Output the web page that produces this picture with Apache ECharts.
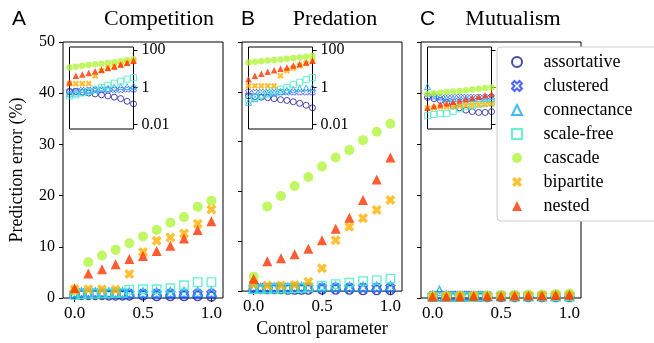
<!DOCTYPE html>
<html>
<head>
<meta charset="utf-8">
<script src="https://cdn.jsdelivr.net/npm/echarts@6/dist/echarts.min.js"></script>
<style>
  html, body { margin: 0; padding: 0; background: #fff; }
  #chart { width: 654px; height: 343px; }
</style>
</head>
<body>
<div id="chart"></div>
<script>
const seriesNames = ["assortative", "clustered", "connectance", "scale-free", "cascade", "bipartite", "nested"];
const panelTitles = ["Competition", "Predation", "Mutualism"];
const panelLetters = ["A", "B", "C"];
const xTicks = [0, 0.5, 1];
const insetTicks = [0.01, 1, 100];

// x positions: the four structural models are sampled more densely at low x
const xLow = [0, 0.05, 0.1, 0.15, 0.2, 0.25, 0.3, 0.35, 0.4, 0.5, 0.6, 0.7, 0.8, 0.9, 1.0];
const xHigh = [0, 0.1, 0.2, 0.3, 0.4, 0.5, 0.6, 0.7, 0.8, 0.9, 1.0];
const xInset = [0, 0.1, 0.2, 0.3, 0.4, 0.5, 0.6, 0.7, 0.8, 0.9, 1.0];

// A - competition
const assortativeA = [0.7, 0.6, 0.6, 0.6, 0.6, 0.5, 0.5, 0.5, 0.5, 0.5, 0.4, 0.4, 0.4, 0.4, 0.3];
const clusteredA = [0.8, 0.9, 0.9, 0.9, 0.9, 0.8, 0.8, 0.8, 0.8, 0.8, 0.8, 0.8, 0.8, 0.8, 0.8];
const connectanceA = [1.0, 1.1, 1.1, 1.1, 1.1, 1.1, 1.1, 1.1, 1.1, 1.1, 1.1, 1.2, 1.2, 1.2, 1.2];
const scaleFreeA = [0.6, 0.7, 0.8, 0.8, 0.9, 0.9, 1.0, 1.0, 1.6, 1.7, 1.7, 1.9, 2.5, 3.1, 3.1];
const cascadeA = [1.4, 7.0, 8.3, 9.4, 10.7, 12.0, 13.3, 14.7, 15.8, 17.8, 19.0];
const bipartiteA = [1.7, 1.7, 1.7, 1.6, 4.7, 9.0, 11.2, 11.8, 12.6, 14.5, 17.3];
const nestedA = [1.9, 4.8, 5.6, 6.6, 7.6, 8.2, 9.2, 10.2, 11.6, 13.3, 15.0];

// B - predation
const assortativeB = [0.4, 0.4, 0.4, 0.4, 0.4, 0.3, 0.3, 0.3, 0.3, 0.3, 0.3, 0.3, 0.2, 0.2, 0.2];
const clusteredB = [0.6, 0.6, 0.6, 0.6, 0.6, 0.6, 0.6, 0.6, 0.6, 0.6, 0.6, 0.6, 0.6, 0.6, 0.6];
const connectanceB = [0.5, 0.6, 0.6, 0.7, 0.7, 0.7, 0.7, 0.8, 0.8, 0.8, 0.9, 0.9, 0.9, 0.9, 1.0];
const scaleFreeB = [0.4, 0.4, 0.5, 0.5, 0.5, 0.5, 0.6, 0.6, 0.8, 1.1, 1.4, 1.7, 2.0, 2.2, 2.5];
const cascadeB = [2.9, 17.0, 19.1, 21.1, 22.9, 25.0, 26.8, 28.3, 30.3, 32.0, 33.6];
const bipartiteB = [1.4, 1.1, 1.1, 1.2, 1.9, 4.6, 10.2, 12.9, 14.6, 16.3, 18.3];
const nestedB = [2.5, 6.0, 6.6, 7.4, 8.5, 10.2, 12.5, 14.7, 18.3, 22.4, 26.8];

// C - mutualism
const assortativeC = [0.3, 0.3, 0.3, 0.3, 0.3, 0.3, 0.3, 0.3, 0.2, 0.2, 0.2, 0.2, 0.2, 0.2, 0.2];
const clusteredC = [0.4, 0.5, 0.4, 0.4, 0.4, 0.4, 0.4, 0.4, 0.4, 0.4, 0.4, 0.4, 0.4, 0.4, 0.4];
const connectanceC = [0.5, 1.4, 0.5, 0.4, 0.4, 0.4, 0.4, 0.4, 0.4, 0.4, 0.4, 0.4, 0.4, 0.4, 0.4];
const scaleFreeC = [0.2, 0.2, 0.2, 0.2, 0.2, 0.2, 0.2, 0.3, 0.3, 0.3, 0.3, 0.3, 0.3, 0.3, 0.3];
const cascadeC = [0.4, 0.4, 0.5, 0.5, 0.5, 0.6, 0.6, 0.7, 0.7, 0.8, 0.9];
const bipartiteC = [0.3, 0.3, 0.3, 0.3, 0.3, 0.3, 0.3, 0.4, 0.4, 0.4, 0.4];
const nestedC = [0.3, 0.3, 0.3, 0.4, 0.4, 0.4, 0.5, 0.5, 0.5, 0.6, 0.7];

// insets (log scale)
const insetA = [
  [0.6, 0.6, 0.55, 0.5, 0.45, 0.4, 0.35, 0.3, 0.25, 0.18, 0.13],
  [0.6, 0.65, 0.7, 0.7, 0.7, 0.7, 0.75, 0.75, 0.75, 0.8, 0.8],
  [0.45, 0.5, 0.6, 0.7, 0.8, 0.9, 0.9, 1.0, 1.1, 1.1, 1.2],
  [0.35, 0.4, 0.5, 0.6, 0.8, 1.0, 1.3, 1.7, 2.2, 2.8, 3.4],
  [12, 13, 14.5, 16, 17.5, 19, 21, 23, 26, 29, 33],
  [1.6, 1.6, 1.6, 1.6, 4.2, 8, 11, 13, 16, 20, 26],
  [1.9, 4.2, 5, 6, 7.5, 9, 11, 13.5, 17, 21, 27],
];
const insetB = [
  [0.35, 0.32, 0.3, 0.28, 0.25, 0.22, 0.2, 0.17, 0.14, 0.11, 0.08],
  [0.55, 0.55, 0.55, 0.55, 0.55, 0.55, 0.55, 0.55, 0.55, 0.55, 0.55],
  [0.16, 0.25, 0.35, 0.45, 0.5, 0.6, 0.7, 0.8, 0.9, 0.95, 1.0],
  [0.23, 0.3, 0.4, 0.5, 0.65, 0.8, 1.0, 1.4, 1.9, 2.6, 3.4],
  [22, 24, 26, 28, 30, 32, 35, 38, 41, 45, 50],
  [1.2, 1.2, 1.2, 1.2, 1.2, 4.2, 8, 11, 15, 20, 26],
  [2.8, 4.2, 5.5, 7, 8.5, 10, 12, 15, 18, 22, 27],
];
const insetC = [
  [0.29, 0.25, 0.2, 0.15, 0.1, 0.08, 0.06, 0.05, 0.045, 0.045, 0.05],
  [0.35, 0.33, 0.3, 0.3, 0.3, 0.3, 0.3, 0.3, 0.3, 0.3, 0.3],
  [1.1, 0.44, 0.3, 0.25, 0.25, 0.25, 0.25, 0.25, 0.25, 0.25, 0.25],
  [0.03, 0.035, 0.04, 0.04, 0.05, 0.07, 0.09, 0.1, 0.12, 0.14, 0.16],
  [0.44, 0.48, 0.52, 0.56, 0.6, 0.65, 0.7, 0.77, 0.85, 0.92, 1.0],
  [0.08, 0.08, 0.09, 0.09, 0.1, 0.1, 0.11, 0.11, 0.12, 0.12, 0.13],
  [0.08, 0.1, 0.12, 0.14, 0.17, 0.2, 0.23, 0.27, 0.32, 0.38, 0.44],
];

const mainData = [
  [assortativeA, clusteredA, connectanceA, scaleFreeA, cascadeA, bipartiteA, nestedA],
  [assortativeB, clusteredB, connectanceB, scaleFreeB, cascadeB, bipartiteB, nestedB],
  [assortativeC, clusteredC, connectanceC, scaleFreeC, cascadeC, bipartiteC, nestedC],
];
const insetData = [insetA, insetB, insetC];

// marker styles (path symbols so the legend keeps their aspect ratio)
const colors = ["#1c1c9c", "#2244ff", "#16a8ff", "#44efc4", "#b2f53c", "#ffb000", "#ff3300"];
const X_PATH = "path://M2.5,0L5,2.5L7.5,0L10,2.5L7.5,5L10,7.5L7.5,10L5,7.5L2.5,10L0,7.5L2.5,5L0,2.5Z";
const TRI_PATH = "path://M5,0L10,10L0,10Z";
const SQ_PATH = "path://M0,0L10,0L10,10L0,10Z";
const symbols = ["circle", X_PATH, TRI_PATH, SQ_PATH, "circle", X_PATH, TRI_PATH];
const hollow = [true, true, true, true, false, false, false];
const mainSize = [9, 9, 9, 8.5, 10, 10, 10];
const insetSize = [6, 6, 6, 6, 6.5, 6.5, 6.5];

const SERIF = "Liberation Serif";
const SANS = "Liberation Sans";

const panelLeft = [63, 242, 421];
const panelW = 160;
const gridTop = 42;
const panelH = 256;

const grid = [];
const xAxis = [];
const yAxis = [];
const series = [];

panelLeft.forEach((left, p) => {
  grid.push({
    left, top: gridTop, width: panelW, height: panelH,
    show: true, borderColor: "#000", borderWidth: 1, backgroundColor: "transparent",
  });
  xAxis.push({
    type: "value", gridIndex: p, min: -0.085, max: 1.085,
    axisLine: { show: false, onZero: false },
    axisTick: { show: true, length: 4, customValues: xTicks, lineStyle: { color: "#000" } },
    axisLabel: {
      customValues: xTicks, margin: 7, color: "#000",
      fontFamily: SERIF, fontSize: 17,
      formatter: (v) => v.toFixed(1),
    },
    splitLine: { show: false },
    name: p === 1 ? "Control parameter" : "",
    nameLocation: "middle", nameGap: 28,
    nameTextStyle: { fontFamily: SERIF, fontSize: 18, color: "#000" },
  });
  yAxis.push({
    type: "value", gridIndex: p, min: 0, max: 50, interval: 10,
    axisLine: { show: false, onZero: false },
    axisTick: { show: true, length: 4, lineStyle: { color: "#000" } },
    axisLabel: { show: p === 0, margin: 8, color: "#000", fontFamily: SERIF, fontSize: 16 },
    splitLine: { show: false },
    name: p === 0 ? "Prediction error (%)" : "",
    nameLocation: "middle", nameGap: 37,
    nameTextStyle: { fontFamily: SERIF, fontSize: 18, color: "#000" },
  });
});

panelLeft.forEach((left, p) => {
  const gi = 3 + p;
  grid.push({
    left: left + 6.5, top: 47, width: 64, height: 82,
    show: true, borderColor: "#000", borderWidth: 1, backgroundColor: "#fff", z: 1,
  });
  xAxis.push({ type: "value", gridIndex: gi, min: 0, max: 1, show: false });
  yAxis.push({
    type: "log", gridIndex: gi, logBase: 10, min: 0.0058, max: 150,
    position: "right",
    axisLine: { show: false, onZero: false },
    axisTick: { show: true, length: 4, customValues: insetTicks, lineStyle: { color: "#000" } },
    axisLabel: {
      show: p < 2,
      customValues: insetTicks, margin: 8, color: "#000",
      fontFamily: SERIF, fontSize: 16,
      formatter: (v) => String(+v.toPrecision(3)),
    },
    splitLine: { show: false },
  });
});

const styleFor = (i, inset) => hollow[i]
  ? { color: "rgba(255,255,255,0)", borderColor: colors[i], borderWidth: inset ? 1 : 1.4 }
  : { color: colors[i], borderWidth: 0 };

mainData.forEach((panel, p) => {
  panel.forEach((vals, i) => {
    const xs = i < 4 ? xLow : xHigh;
    series.push({
      type: "scatter", name: seriesNames[i],
      xAxisIndex: p, yAxisIndex: p,
      symbol: symbols[i], symbolSize: mainSize[i],
      itemStyle: styleFor(i, false),
      data: vals.map((v, k) => [xs[k], v]),
      z: 2,
    });
  });
});

insetData.forEach((panel, p) => {
  panel.forEach((vals, i) => {
    series.push({
      type: "scatter", name: seriesNames[i],
      xAxisIndex: 3 + p, yAxisIndex: 3 + p,
      symbol: symbols[i], symbolSize: insetSize[i],
      itemStyle: styleFor(i, true),
      data: vals.map((v, k) => [xInset[k], v]),
      z: 3,
    });
  });
});

const graphic = [];
const letterX = [12, 241, 420];
const titleX = [159, 335, 513];
panelLetters.forEach((l, p) => {
  graphic.push({
    type: "text", x: letterX[p], y: 19,
    style: { text: l, font: `21px "${SANS}"`, fill: "#000", textVerticalAlign: "middle" },
  });
  graphic.push({
    type: "text", x: titleX[p], y: 19,
    style: { text: panelTitles[p], font: `22px "${SERIF}"`, fill: "#000", textAlign: "center", textVerticalAlign: "middle" },
  });
});

const chart = echarts.init(document.getElementById("chart"), null, { renderer: "canvas" });
chart.setOption({
  animation: false,
  backgroundColor: "#fff",
  grid, xAxis, yAxis, series, graphic,
  legend: {
    data: seriesNames,
    orient: "vertical",
    left: 497, top: 47,
    itemWidth: 43, itemHeight: 10, itemGap: 6,
    symbolKeepAspect: true,
    padding: [6, 40, 6, 14],
    backgroundColor: "#fff",
    borderColor: "#cccccc", borderWidth: 1, borderRadius: 4,
    textStyle: { fontFamily: SERIF, fontSize: 18, color: "#000" },
    selectedMode: false,
    z: 10,
  },
});
</script>
</body>
</html>
